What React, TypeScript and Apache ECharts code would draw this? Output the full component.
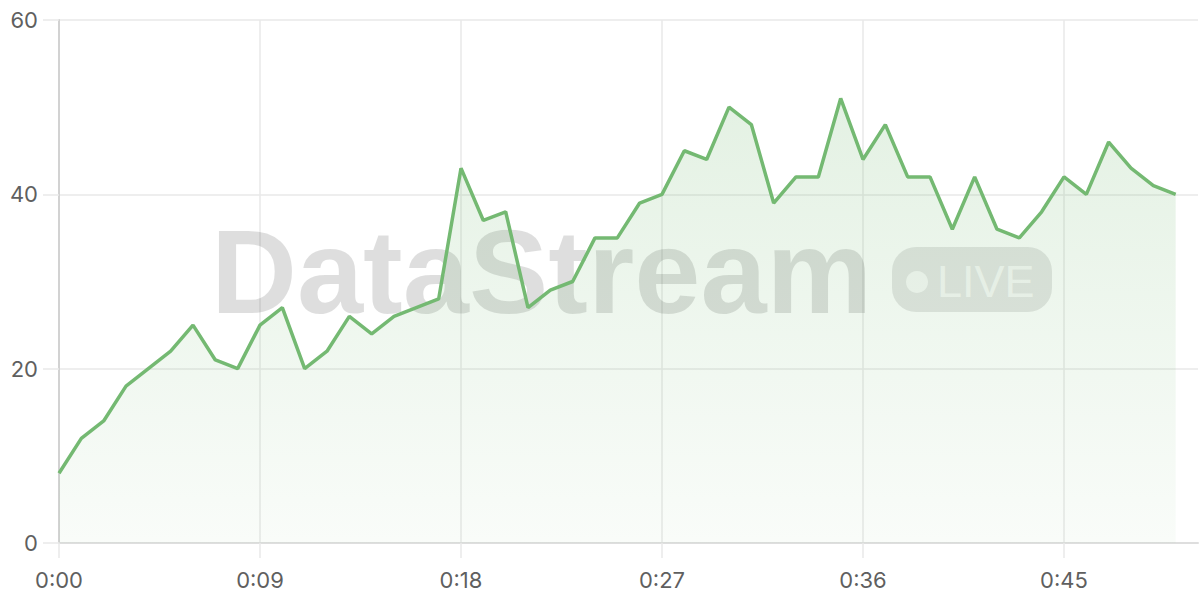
import React, { useEffect, useRef } from 'react';
import * as echarts from 'echarts';
import type { EChartsOption } from 'echarts';

// one reading per second
const streamValues = [
  8, 12, 14, 18, 20, 22, 25, 21, 20, 25,
  27, 20, 22, 26, 24, 26, 27, 28, 43, 37,
  38, 27, 29, 30, 35, 35, 39, 40, 45, 44,
  50, 48, 39, 42, 42, 51, 44, 48, 42, 42,
  36, 42, 36, 35, 38, 42, 40, 46, 43, 41,
  40,
];

// axis runs one second past the last reading
const timeLabels = Array.from({ length: 52 }, (_, s) => `0:${String(s).padStart(2, '0')}`);

const yTicks = { min: 0, max: 60, interval: 20 };

const LINE = '#74b972';
const LABEL = '#5f5f5f';

const App: React.FC = () => {
  const chartRef = useRef<HTMLDivElement>(null);

  useEffect(() => {
    if (!chartRef.current) return;
    const chart = echarts.init(chartRef.current, undefined, { renderer: 'svg' });

    const option: EChartsOption = {
      animation: false,
      backgroundColor: '#ffffff',
      grid: { left: 59, right: 2, top: 20, bottom: 57, outerBoundsMode: 'none' } as any,
      xAxis: {
        type: 'category',
        data: timeLabels,
        boundaryGap: false,
        axisLine: { lineStyle: { color: '#dedede', width: 2 } },
        axisTick: { show: true, interval: 8, length: 15, lineStyle: { color: '#e8e8e8', width: 1.5 } },
        axisLabel: {
          interval: 8,
          margin: 26,
          color: LABEL,
          fontSize: 22,
          fontFamily: 'Inter',
        },
        splitLine: { show: true, interval: 8, lineStyle: { color: '#e8e8e8', width: 1.5 } },
      },
      yAxis: {
        type: 'value',
        ...yTicks,
        axisLine: { show: true, lineStyle: { color: '#d2d2d2', width: 2 } },
        axisTick: { show: true, length: 16, lineStyle: { color: '#e8e8e8', width: 1.5 } },
        axisLabel: { margin: 21, color: LABEL, fontSize: 22, fontFamily: 'Inter' },
        splitLine: { lineStyle: { color: '#e8e8e8', width: 1.5 } },
      },
      graphic: [
        {
          type: 'text',
          z: 1,
          silent: true,
          style: {
            text: 'DataStream',
            x: 211,
            y: 271,
            textAlign: 'left',
            textVerticalAlign: 'middle',
            fontSize: 119,
            fontWeight: 'bold',
            fontFamily: 'Liberation Sans',
            fill: 'rgba(0,0,0,0.13)',
          },
        },
        {
          type: 'rect',
          z: 1,
          silent: true,
          shape: { x: 892, y: 247, width: 160, height: 65, r: 24 },
          style: { fill: 'rgba(0,0,0,0.1)' },
        },
        {
          type: 'circle',
          z: 1,
          silent: true,
          shape: { cx: 917, cy: 282, r: 11 },
          style: { fill: 'rgba(255,255,255,0.72)' },
        },
        {
          type: 'text',
          z: 1,
          silent: true,
          style: {
            text: 'LIVE',
            x: 937,
            y: 281,
            textAlign: 'left',
            textVerticalAlign: 'middle',
            fontSize: 45,
            fontFamily: 'Liberation Sans',
            fill: 'rgba(255,255,255,0.72)',
          },
        },
      ],
      series: [
        {
          type: 'line',
          data: streamValues,
          showSymbol: false,
          z: 3,
          lineStyle: { color: LINE, width: 3.5 },
          itemStyle: { color: LINE },
          areaStyle: {
            color: new echarts.graphic.LinearGradient(0, 0, 0, 1, [
              { offset: 0, color: 'rgba(116,185,114,0.28)' },
              { offset: 1, color: 'rgba(116,185,114,0.06)' },
            ]),
          },
        },
      ],
    };

    chart.setOption(option);
    const onResize = () => chart.resize();
    window.addEventListener('resize', onResize);
    return () => {
      window.removeEventListener('resize', onResize);
      chart.dispose();
    };
  }, []);

  return (
    <div
      ref={chartRef}
      style={{ position: 'fixed', left: 0, top: 0, width: '1200px', height: '600px' }}
    />
  );
};

export default App;
